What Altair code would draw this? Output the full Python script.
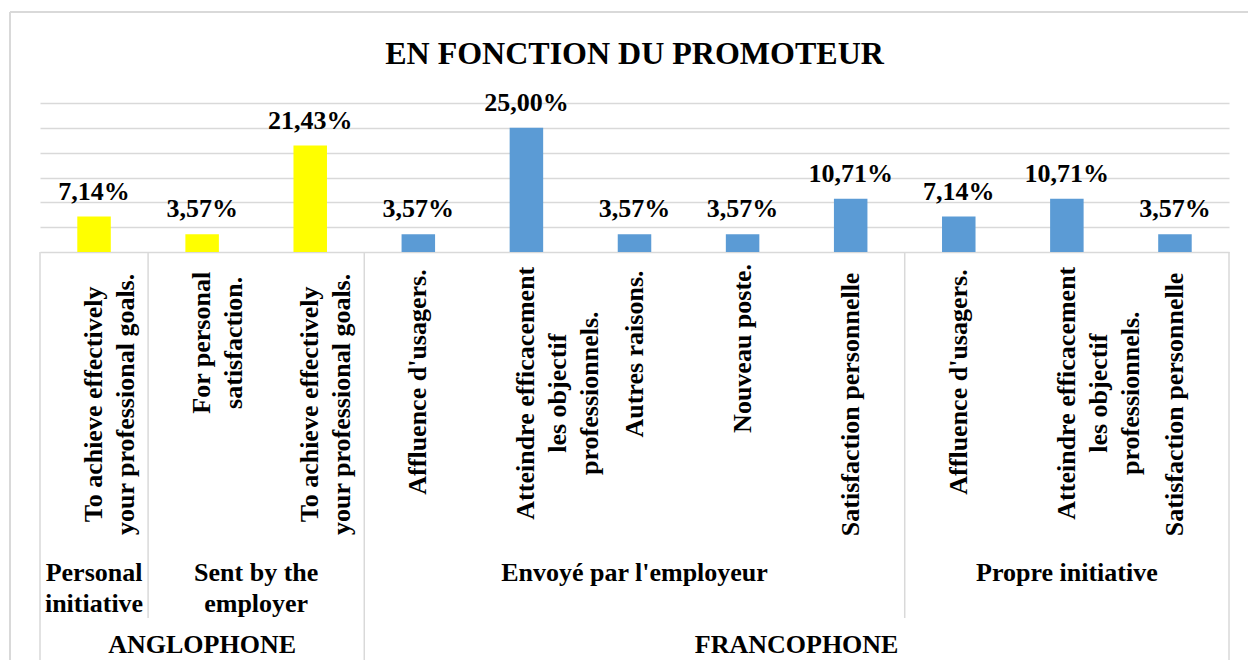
import altair as alt
import pandas as pd

FONT = "'Liberation Serif', 'Times New Roman', Times, serif"

title_text = "EN FONCTION DU PROMOTEUR"
language = ["ANGLOPHONE"] * 3 + ["FRANCOPHONE"] * 8
promoter = (["Personal\ninitiative", "Sent by the\nemployer", "Sent by the\nemployer"]
            + ["Envoyé par l'employeur"] * 5
            + ["Propre initiative"] * 3)
reasons = [
    "To achieve effectively\nyour professional goals.",
    "For personal\nsatisfaction.",
    "To achieve effectively\nyour professional goals.",
    "Affluence d'usagers.",
    "Atteindre efficacement\nles objectif\nprofessionnels.",
    "Autres raisons.",
    "Nouveau poste.",
    "Satisfaction personnelle",
    "Affluence d'usagers.",
    "Atteindre efficacement\nles objectif\nprofessionnels.",
    "Satisfaction personnelle",
]
values = [7.14, 3.57, 21.43, 3.57, 25.00, 3.57, 3.57, 10.71, 7.14, 10.71, 3.57]
grid_ticks = [0, 5, 10, 15, 20, 25, 30]
lang_domain = ["ANGLOPHONE", "FRANCOPHONE"]
lang_colors = ["#FFFF00", "#5B9BD5"]

n = len(values)
ids = [f"c{i:02d}" for i in range(n)]
df = pd.DataFrame({
    "id": ids,
    "language": language,
    "promoter": promoter,
    "reason": reasons,
    "value": values,
    "maxlen": [max(len(s) for s in r.split("\n")) for r in reasons],
})

# group spans (derived from the category structure)
def spans(keys):
    out = []
    start = 0
    for i in range(1, n + 1):
        if i == n or keys[i] != keys[start]:
            out.append({"label": keys[start], "start": start, "end": i, "mid": (start + i) / 2})
            start = i
    return out

lvl1 = spans(language)
lvl2 = spans([f"{a}|{b}" for a, b in zip(language, promoter)])
for g in lvl2:
    g["label"] = g["label"].split("|", 1)[1]
full_bounds = [{"pos": g["start"]} for g in lvl1] + [{"pos": n}]
short_bounds = [{"pos": g["start"]} for g in lvl2 if g["start"] not in [h["start"] for h in lvl1]]

W, H = 1189, 149
GRID = "#d9d9d9"

xband = alt.X("id:N", scale=alt.Scale(type="band", domain=ids, paddingInner=0, paddingOuter=0), axis=None)
xband_c = alt.X("id:N", scale=alt.Scale(type="band", domain=ids, paddingInner=0, paddingOuter=0),
                axis=None, bandPosition=0.5)
xlin = alt.X("pos:Q", scale=alt.Scale(domain=[0, n], nice=False, zero=False), axis=None)
xlin_mid = alt.X("mid:Q", scale=alt.Scale(domain=[0, n], nice=False, zero=False), axis=None)
yval = alt.Y("value:Q", scale=alt.Scale(domain=[0, 30], nice=False),
             axis=alt.Axis(values=grid_ticks, grid=True, labels=False, ticks=False, domain=False,
                           title=None, gridColor=GRID, gridWidth=1.5))
yval_noaxis = alt.Y("value:Q", scale=alt.Scale(domain=[0, 30], nice=False), axis=None)

base = alt.Chart(df)

bars = base.mark_bar(width={"band": 0.31}).encode(
    x=xband, y=yval,
    color=alt.Color("language:N", scale=alt.Scale(domain=lang_domain, range=lang_colors), legend=None),
)

bar_labels = base.transform_calculate(
    lbl="replace(format(datum.value, '.2f'), '.', ',') + '%'"
).mark_text(baseline="alphabetic", dy=-17, fontSize=26, font=FONT, fontWeight="bold", color="black").encode(
    x=xband_c, y=yval_noaxis, text="lbl:N"
)

reason_labels = base.transform_calculate(
    ly="167 + 5.6 * datum.maxlen"
).mark_text(angle=270, align="center", baseline="middle", lineBreak="\n", lineHeight=32,
            fontSize=26, font=FONT, fontWeight="bold", color="black").encode(
    x=xband_c, y=alt.Y("ly:Q", scale=None, axis=None), text="reason:N"
)

rules_full = alt.Chart(alt.Data(values=full_bounds)).mark_rule(color=GRID, strokeWidth=1.5).encode(
    x=xlin, y=alt.value(H), y2=alt.value(560)
)
rules_short = alt.Chart(alt.Data(values=short_bounds)).mark_rule(color=GRID, strokeWidth=1.5).encode(
    x=xlin, y=alt.value(H), y2=alt.value(515)
)

lvl2_labels = alt.Chart(alt.Data(values=lvl2)).mark_text(
    align="center", baseline="alphabetic", lineBreak="\n", lineHeight=31,
    fontSize=26, font=FONT, fontWeight="bold", color="black").encode(
    x=xlin_mid, y=alt.value(478), text="label:N"
)
lvl1_labels = alt.Chart(alt.Data(values=lvl1)).mark_text(
    align="center", baseline="alphabetic",
    fontSize=26, font=FONT, fontWeight="bold", color="black").encode(
    x=xlin_mid, y=alt.value(550), text="label:N"
)

border_top = alt.Chart(alt.Data(values=[{}])).mark_rule(color=GRID, strokeWidth=2).encode(
    x=alt.value(-30), x2=alt.value(1230), y=alt.value(-91)
)
border_left = alt.Chart(alt.Data(values=[{}])).mark_rule(color=GRID, strokeWidth=2).encode(
    x=alt.value(-30), y=alt.value(-91), y2=alt.value(560)
)

chart = alt.layer(
    border_top, border_left, bars, bar_labels, reason_labels,
    rules_full, rules_short, lvl2_labels, lvl1_labels,
).resolve_scale(x="independent", y="independent").properties(
    width=W, height=H,
    title=alt.TitleParams(title_text, fontSize=32, font=FONT, fontWeight="bold", color="black",
                          anchor="middle", baseline="alphabetic", offset=-85),
    autosize=alt.AutoSizeParams(type="none"),
    padding={"left": 32, "top": 95, "right": 19, "bottom": 408},
    background="white",
).configure_view(stroke=None)

chart.save("out.html", embed_options={"renderer": "svg", "actions": False})
